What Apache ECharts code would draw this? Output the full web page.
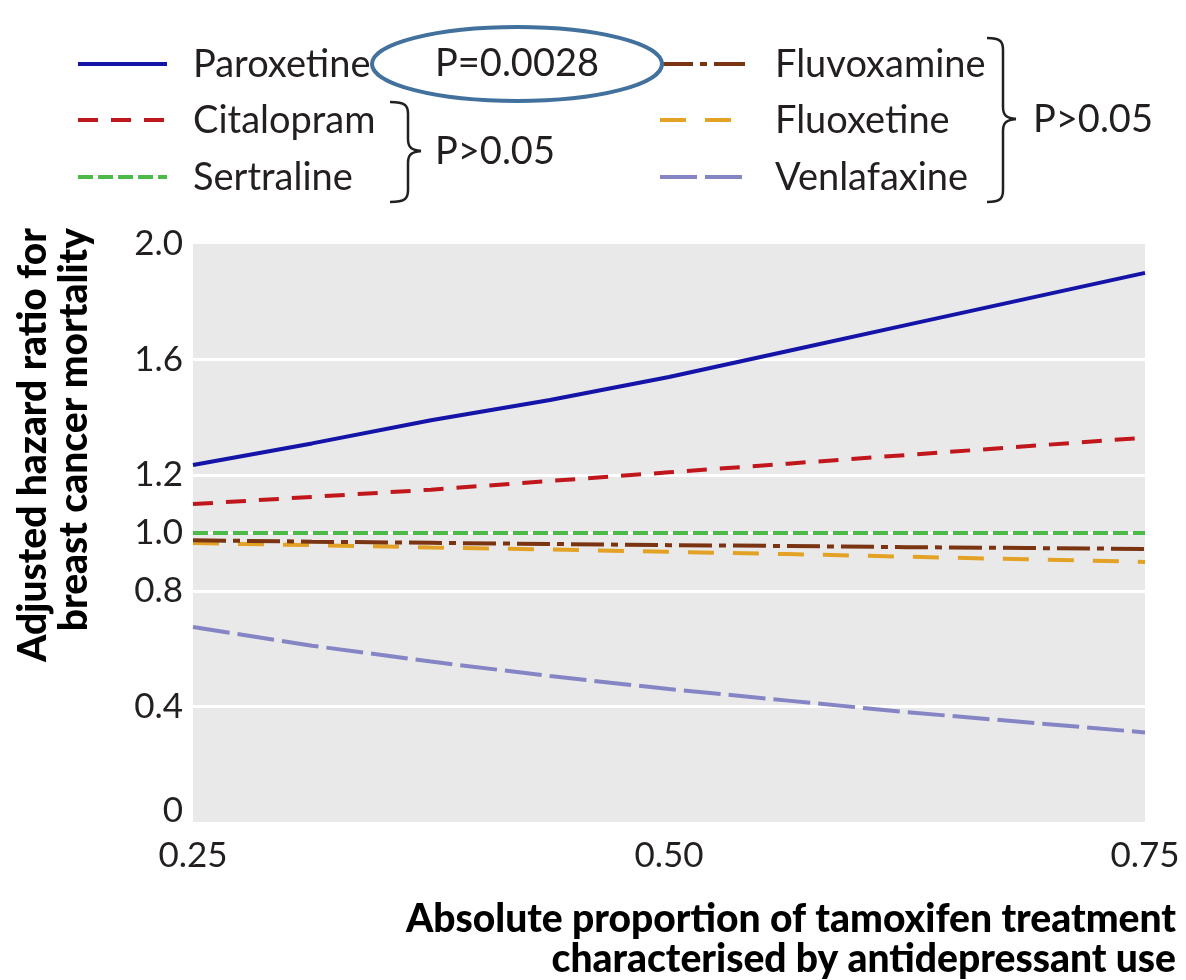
<!DOCTYPE html>
<html>
<head>
<meta charset="utf-8">
<title>Antidepressant use during tamoxifen treatment and breast cancer mortality</title>
<script src="https://cdn.jsdelivr.net/npm/echarts@6/dist/echarts.min.js"></script>
<style>
  html, body { margin: 0; padding: 0; background: #ffffff; }
  #chart { width: 1186px; height: 980px; }
</style>
</head>
<body>
<div id="chart"></div>
<script>
// Proportion of tamoxifen treatment overlapping with antidepressant use
const proportion = [0.25, 0.3125, 0.375, 0.4375, 0.5, 0.5625, 0.625, 0.6875, 0.75];

// Adjusted hazard ratios for breast cancer mortality, one list per drug
const paroxetine  = [1.235, 1.31, 1.39, 1.46, 1.54, 1.63, 1.72, 1.81, 1.90];
const citalopram  = [1.10, 1.125, 1.15, 1.18, 1.21, 1.24, 1.27, 1.30, 1.33];
const sertraline  = [1.00, 1.00, 1.00, 1.00, 1.00, 1.00, 1.00, 1.00, 1.00];
const fluvoxamine = [0.975, 0.97, 0.966, 0.962, 0.958, 0.955, 0.951, 0.948, 0.945];
const fluoxetine  = [0.965, 0.958, 0.95, 0.943, 0.935, 0.927, 0.918, 0.909, 0.90];
const venlafaxine = [0.675, 0.61, 0.555, 0.505, 0.46, 0.42, 0.38, 0.345, 0.31];

// Axis ticks that carry labels / white reference lines
const xTicks = [0.25, 0.50, 0.75];
const yLabelled = [0, 0.4, 0.8, 1.0, 1.2, 1.6, 2.0];
const yGridLines = [0.4, 0.8, 1.0, 1.2, 1.6];

const pLabels = { paroxetine: 'P=0.0028', others: 'P>0.05' };

const FONT = 'Lato';
const TEXT = '#231f20';

const drugs = [
  { name: 'Paroxetine',  values: paroxetine,  color: '#1414a8', dash: 'solid',          width: 4 },
  { name: 'Citalopram',  values: citalopram,  color: '#c0161c', dash: [20, 13],         width: 4 },
  { name: 'Sertraline',  values: sertraline,  color: '#4cba48', dash: [15, 5],          width: 4 },
  { name: 'Fluvoxamine', values: fluvoxamine, color: '#7a3412', dash: [33, 7, 7, 7],    width: 4 },
  { name: 'Fluoxetine',  values: fluoxetine,  color: '#e3a226', dash: [26, 19],         width: 4 },
  { name: 'Venlafaxine', values: venlafaxine, color: '#8585c6', dash: [37, 8],          width: 4 }
];

const chart = echarts.init(document.getElementById('chart'), null, { renderer: 'canvas' });

const lineSeries = drugs.map((d, i) => ({
  name: d.name,
  type: 'line',
  z: 10 - i,
  showSymbol: false,
  symbol: 'none',
  silent: true,
  animation: false,
  data: proportion.map((x, k) => [x, d.values[k]]),
  lineStyle: { color: d.color, width: d.width, type: d.dash, cap: 'butt' }
}));
// Sertraline sits on top of the near-1.0 cluster
lineSeries[2].z = 11;

// Series that only carries the white reference lines behind the curves
const gridSeries = {
  name: 'reference',
  type: 'line',
  z: 1,
  data: [],
  silent: true,
  animation: false,
  markLine: {
    z: 1,
    silent: true,
    symbol: ['none', 'none'],
    label: { show: false },
    animation: false,
    lineStyle: { color: '#ffffff', width: 3, type: 'solid' },
    data: yGridLines.map(v => ({ yAxis: v }))
  }
};

// Legend: two columns of line samples with drug names
const legendLeft = { lineX: [78, 167], textX: 193 };
const legendRight = { lineX: [660, 745], textX: 775 };
const rowsY = [64, 120, 177];
const graphics = [];
drugs.forEach((d, i) => {
  const col = i < 3 ? legendLeft : legendRight;
  const y = rowsY[i % 3];
  graphics.push({
    type: 'line',
    shape: { x1: col.lineX[0], y1: y, x2: col.lineX[1], y2: y },
    style: {
      stroke: d.color, lineWidth: d.width,
      lineDash: d.dash === 'solid' ? null : d.dash, lineCap: 'butt'
    },
    silent: true
  });
  graphics.push({
    type: 'text',
    x: col.textX, y: y + 1,
    style: {
      text: d.name, fill: TEXT, font: '38px ' + FONT,
      textAlign: 'left', textVerticalAlign: 'middle'
    },
    silent: true
  });
});

// Right-facing curly brace built from curves and straight pieces
function brace(left, spine, tipX, top, tipY, bottom) {
  const st = { fill: 'none', stroke: TEXT, lineWidth: 2.5 };
  const r = 12;
  return [
    { type: 'bezierCurve', silent: true, style: st,
      shape: { x1: left, y1: top, cpx1: spine - 2, cpy1: top, cpx2: spine, cpy2: top + 4, x2: spine, y2: top + r } },
    { type: 'line', silent: true, style: st,
      shape: { x1: spine, y1: top + r, x2: spine, y2: tipY - r } },
    { type: 'bezierCurve', silent: true, style: st,
      shape: { x1: spine, y1: tipY - r, cpx1: spine, cpy1: tipY - 3, cpx2: spine + 4, cpy2: tipY - 1, x2: tipX, y2: tipY } },
    { type: 'bezierCurve', silent: true, style: st,
      shape: { x1: tipX, y1: tipY, cpx1: spine + 4, cpy1: tipY + 1, cpx2: spine, cpy2: tipY + 3, x2: spine, y2: tipY + r } },
    { type: 'line', silent: true, style: st,
      shape: { x1: spine, y1: tipY + r, x2: spine, y2: bottom - r } },
    { type: 'bezierCurve', silent: true, style: st,
      shape: { x1: spine, y1: bottom - r, cpx1: spine, cpy1: bottom - 4, cpx2: spine - 2, cpy2: bottom, x2: left, y2: bottom } }
  ];
}

// Significance notes with braces
graphics.push(
  {
    type: 'text', x: 435, y: 64,
    style: { text: pLabels.paroxetine, fill: TEXT, font: '38px ' + FONT, textAlign: 'left', textVerticalAlign: 'middle' },
    silent: true
  },
  {
    type: 'ellipse',
    shape: { cx: 517, cy: 64, rx: 145, ry: 37 },
    style: { fill: 'none', stroke: '#41719c', lineWidth: 4 },
    silent: true
  },
  {
    type: 'text', x: 435, y: 152,
    style: { text: pLabels.others, fill: TEXT, font: '38px ' + FONT, textAlign: 'left', textVerticalAlign: 'middle' },
    silent: true
  },
  {
    type: 'text', x: 1033, y: 120,
    style: { text: pLabels.others, fill: TEXT, font: '38px ' + FONT, textAlign: 'left', textVerticalAlign: 'middle' },
    silent: true
  }
);
brace(390, 408, 421, 102, 151, 202).forEach(g => graphics.push(g));
brace(987, 1003, 1016, 38, 119, 202).forEach(g => graphics.push(g));

// Axis titles
graphics.push(
  {
    type: 'text', x: 54, y: 228, rotation: Math.PI / 2,
    style: {
      text: 'Adjusted hazard ratio for\nbreast cancer mortality',
      fill: '#000000', font: '900 39px ' + FONT, lineHeight: 41,
      textAlign: 'right', textVerticalAlign: 'middle'
    },
    silent: true
  },
  {
    type: 'text', x: 1176, y: 939,
    style: {
      text: 'Absolute proportion of tamoxifen treatment\ncharacterised by antidepressant use',
      fill: '#000000', font: '900 39px ' + FONT, lineHeight: 40,
      textAlign: 'right', textVerticalAlign: 'middle'
    },
    silent: true
  }
);

const option = {
  backgroundColor: '#ffffff',
  animation: false,
  textStyle: { fontFamily: FONT },
  grid: {
    left: 193, right: 41, top: 244, bottom: 158,
    show: true, backgroundColor: '#e9e9e9', borderWidth: 0
  },
  xAxis: {
    type: 'value',
    min: xTicks[0], max: xTicks[xTicks.length - 1], interval: 0.25,
    axisLine: { show: false },
    axisTick: { show: false },
    splitLine: { show: false },
    axisLabel: {
      color: TEXT, fontSize: 35, fontFamily: FONT, margin: 16,
      formatter: v => xTicks.some(t => Math.abs(t - v) < 1e-9) ? v.toFixed(2) : ''
    }
  },
  yAxis: {
    type: 'value',
    min: 0, max: 2, interval: 0.2,
    axisLine: { show: false },
    axisTick: { show: false },
    splitLine: { show: false },
    axisLabel: {
      color: TEXT, fontSize: 35, fontFamily: FONT, margin: 10,
      formatter: v => {
        const r = Math.round(v * 10) / 10;
        if (!yLabelled.some(t => Math.abs(t - r) < 1e-9)) return '';
        return r === 0 ? '{zero|0}' : r.toFixed(1);
      },
      rich: {
        zero: { fontSize: 35, fontFamily: FONT, color: TEXT, padding: [0, 0, 22, 0] }
      }
    }
  },
  series: [gridSeries].concat(lineSeries),
  graphic: graphics
};

chart.setOption(option);
</script>
</body>
</html>
